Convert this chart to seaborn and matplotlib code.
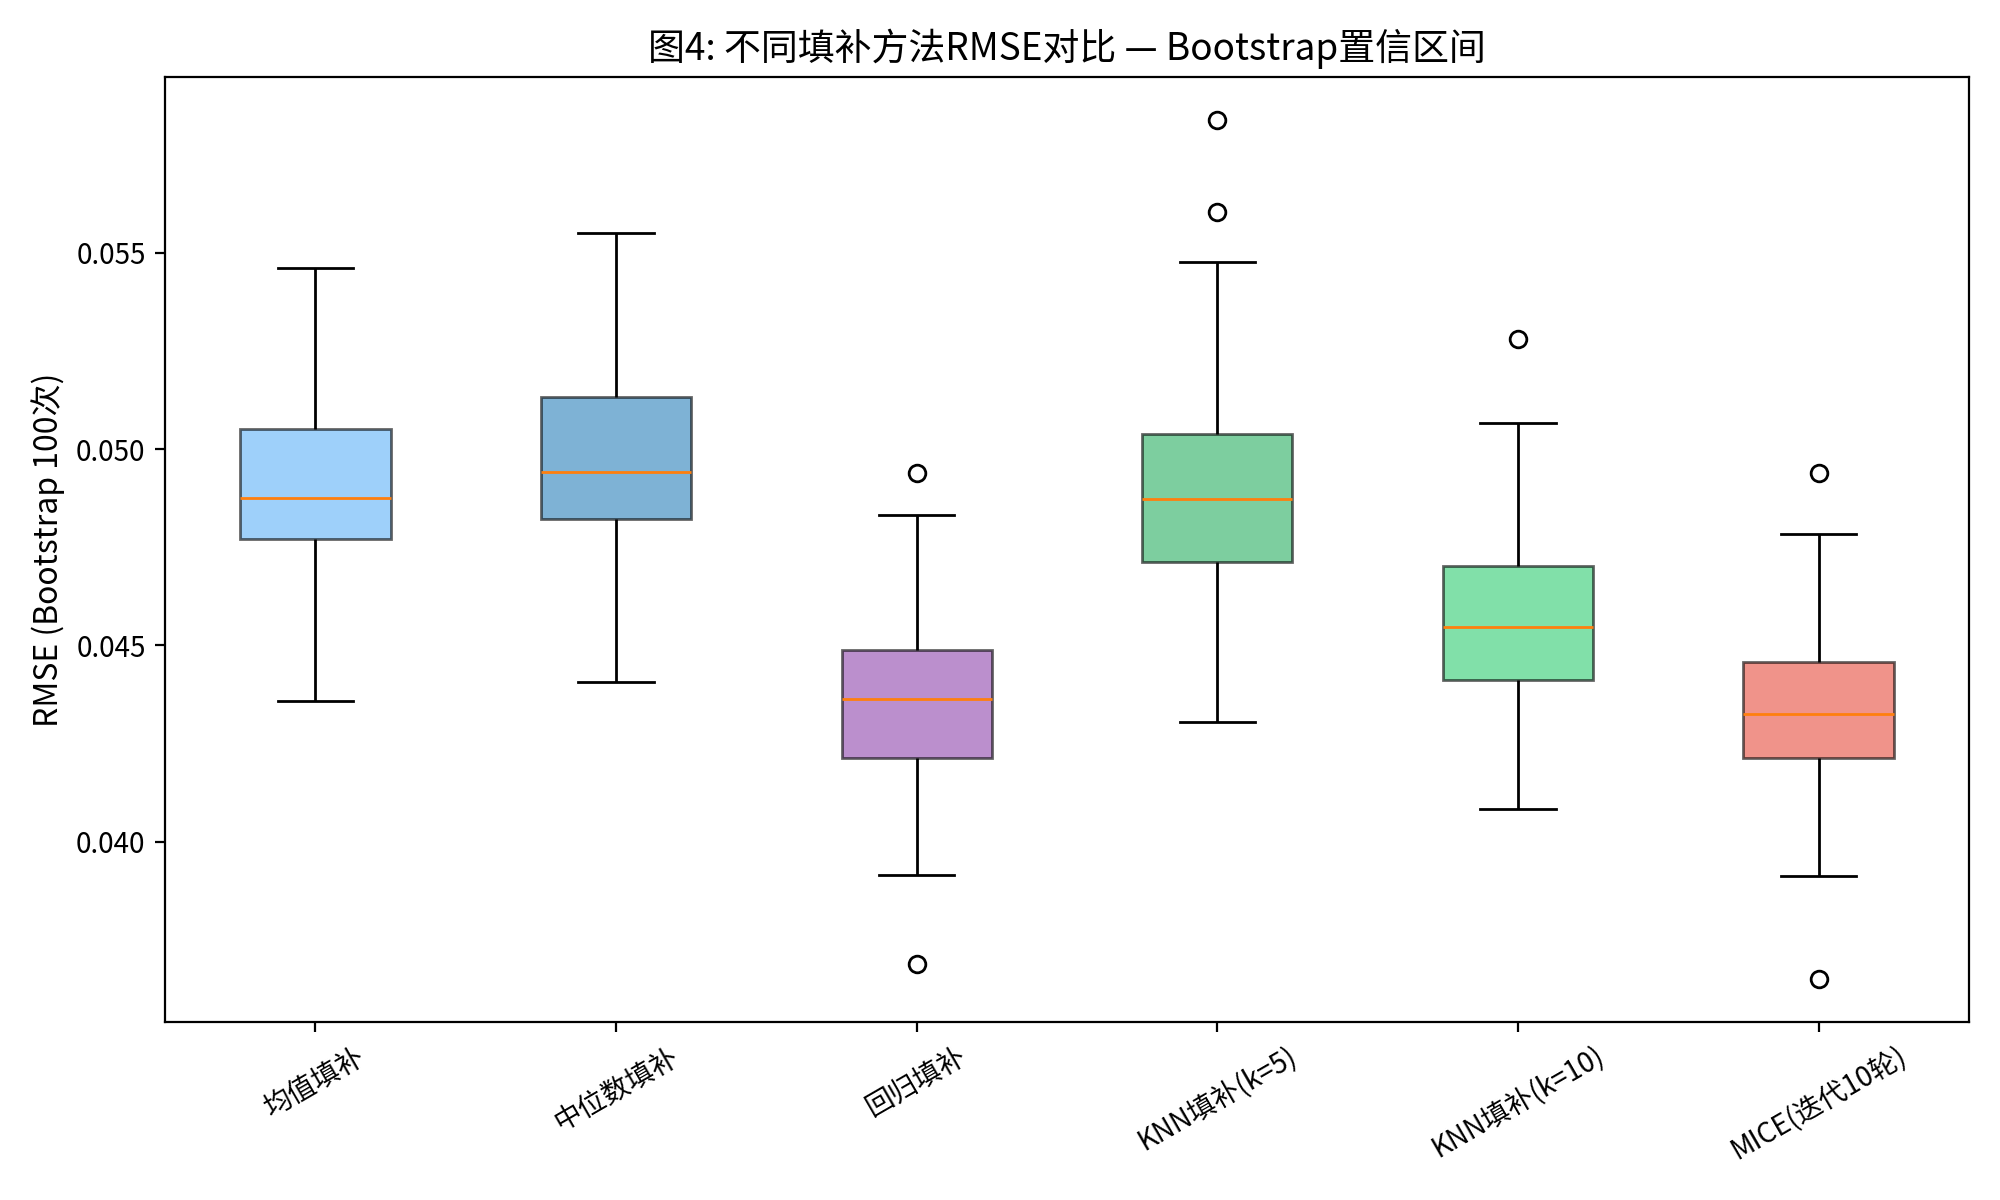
import matplotlib
matplotlib.use("Agg")
import matplotlib.pyplot as plt
import seaborn as sns
import pandas as pd

# 方法名称
methods = ["均值填补", "中位数填补", "回归填补", "KNN填补(k=5)", "KNN填补(k=10)", "MICE(迭代10轮)"]

# Bootstrap RMSE (读图估计, 每组13个排序值)
rmse_mean = [0.04359, 0.0455, 0.0470, 0.04772, 0.0480, 0.0484, 0.04875,
             0.0490, 0.0495, 0.05051, 0.0515, 0.0530, 0.05461]
rmse_median = [0.04408, 0.0455, 0.0470, 0.04823, 0.0485, 0.0490, 0.04941,
               0.0500, 0.0508, 0.05132, 0.0525, 0.0540, 0.05549]
rmse_regression = [0.03689, 0.03916, 0.0410, 0.04213, 0.0425, 0.0430, 0.04364,
                   0.0440, 0.0445, 0.04489, 0.0465, 0.04832, 0.04939]
rmse_knn5 = [0.04306, 0.0450, 0.0462, 0.04713, 0.0478, 0.0483, 0.04872,
             0.0492, 0.0498, 0.05037, 0.05477, 0.05604, 0.05838]
rmse_knn10 = [0.04083, 0.0425, 0.0435, 0.04412, 0.0445, 0.0450, 0.04548,
              0.0460, 0.0465, 0.04701, 0.0485, 0.05065, 0.05279]
rmse_mice = [0.0365, 0.03913, 0.0410, 0.04213, 0.0425, 0.0429, 0.04325,
             0.0437, 0.0442, 0.04459, 0.0460, 0.04783, 0.04938]

colors = ["#5db1f7", "#2980b9", "#8e44ad", "#27ae60", "#2ecc71", "#e74c3c"]

all_vals = [rmse_mean, rmse_median, rmse_regression, rmse_knn5, rmse_knn10, rmse_mice]
df = pd.DataFrame({
    "method": [m for m, v in zip(methods, all_vals) for _ in v],
    "rmse": [x for v in all_vals for x in v],
})

plt.rcParams['font.family'] = ['Noto Sans CJK SC', 'DejaVu Sans']
plt.rcParams['axes.unicode_minus'] = False

fig, ax = plt.subplots(figsize=(10, 6), dpi=200)

sns.boxplot(data=df, x="method", y="rmse", hue="method", order=methods,
            hue_order=methods, palette=colors, saturation=1, legend=False, ax=ax,
            width=0.5, linewidth=1.0, linecolor="black",
            boxprops=dict(alpha=0.6),
            medianprops=dict(color="#ff7f0e", linewidth=1.0),
            whiskerprops=dict(color="black"),
            capprops=dict(color="black"),
            flierprops=dict(marker="o", markerfacecolor="none",
                            markeredgecolor="black", markersize=6))

ax.set_title("图4: 不同填补方法RMSE对比 — Bootstrap置信区间", fontsize=13.3)
ax.set_xlabel("")
ax.set_ylabel("RMSE (Bootstrap 100次)", fontsize=11.5)
ax.tick_params(axis='x', rotation=30)

plt.subplots_adjust(left=0.0825, right=0.9845, top=0.936, bottom=0.148)
fig.savefig("out.png", dpi=200)
